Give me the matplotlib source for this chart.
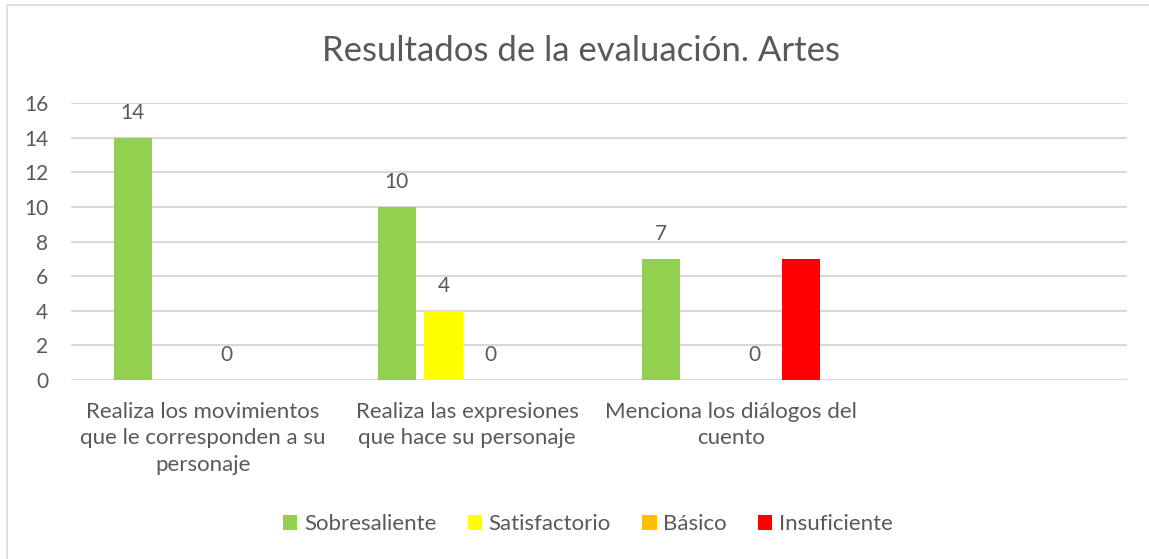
import matplotlib
matplotlib.use("Agg")
import matplotlib.pyplot as plt
from matplotlib.patches import Rectangle
import numpy as np

categories = ["Realiza los movimientos\nque le corresponden a su\npersonaje",
              "Realiza las expresiones\nque hace su personaje",
              "Menciona los diálogos del\ncuento",
              ""]
series_names = ["Sobresaliente", "Satisfactorio", "Básico", "Insuficiente"]
sobresaliente = [14, 10, 7, None]
satisfactorio = [None, 4, None, None]
basico = [0, 0, 0, None]
insuficiente = [None, None, 7, None]
series_values = [sobresaliente, satisfactorio, basico, insuficiente]
series_has_labels = [True, True, True, False]
colors = ["#92D050", "#FFFF00", "#FFC000", "#FF0000"]
yticks = [0, 2, 4, 6, 8, 10, 12, 14, 16]
title = "Resultados de la evaluación. Artes"

plt.rcParams['font.family'] = ['Lato', 'DejaVu Sans']
TXT = "#595959"
W, H = 1149, 559
fig = plt.figure(figsize=(W / 100, H / 100), dpi=100)

# chart border
fig.patches.append(Rectangle((7 / W, -0.1), 1.2, 1 - 5 / H + 0.1, transform=fig.transFigure,
                             fill=False, edgecolor="#D9D9D9", linewidth=1.2))

ax = fig.add_axes([71 / W, 1 - 380 / H, (1127 - 71) / W, (380 - 103) / H])
x = np.arange(len(categories))
step = 0.178
bw = 0.144
for i, (name, vals, c, lab) in enumerate(zip(series_names, series_values, colors, series_has_labels)):
    pos = x + (i - 1.5) * step
    heights = [v if v is not None else 0 for v in vals]
    ax.bar(pos, heights, width=bw, color=c, label=name, zorder=3)
    if lab:
        for p, v in zip(pos, vals):
            if v is not None:
                ax.annotate(str(v), (p, v), xytext=(0, 25), textcoords="offset pixels",
                            ha="center", va="center", fontsize=15, color=TXT)

ax.set_xlim(-0.5, len(categories) - 0.5)
ax.set_ylim(0, 16)
ax.set_yticks(yticks)
ax.set_xticks(x)
ax.set_xticklabels(categories, fontsize=16, color=TXT, linespacing=1.42, va="top")
ax.tick_params(axis="x", length=0, pad=15.5)
ax.tick_params(axis="y", length=0, pad=16.5, labelsize=15, labelcolor=TXT)
ax.grid(axis="y", color="#D9D9D9", linewidth=1.5, zorder=0)
for s in ax.spines.values():
    s.set_visible(False)

fig.text(581 / W, 1 - 51 / H, title, ha="center", va="center", fontsize=25, color=TXT)

leg = fig.legend(loc="center", bbox_to_anchor=(588 / W, 1 - 524 / H), ncol=4, frameon=False,
                 fontsize=16, handlelength=0.65, handleheight=0.65, handletextpad=0.3,
                 columnspacing=1.4)
for t in leg.get_texts():
    t.set_color(TXT)

fig.savefig("out.png", dpi=100)
